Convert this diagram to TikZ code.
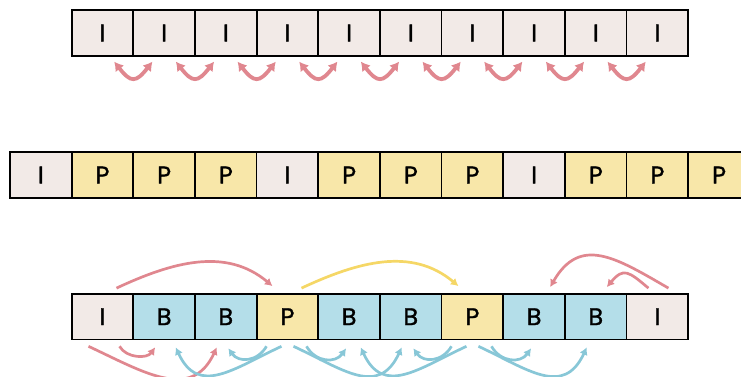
\documentclass[tikz,border=0pt]{standalone}
\usepackage{fontspec}
\setmainfont{Poppins}[FakeBold=1.2]
\usetikzlibrary{arrows.meta}
\definecolor{ifill}{HTML}{F2EAE7}
\definecolor{pfill}{HTML}{F8E7A9}
\definecolor{bfill}{HTML}{B4DEE9}
\definecolor{redc}{HTML}{E0878F}
\definecolor{bluec}{HTML}{88C7D7}
\definecolor{yellowc}{HTML}{F5D766}
\tikzset{
  cell/.style={draw=black, line width=1.7pt, minimum width=61.66pt, minimum height=45.5pt,
    inner sep=0pt, font=\fontsize{24}{24}\selectfont},
  icell/.style={cell, fill=ifill},
  pcell/.style={cell, fill=pfill},
  bcell/.style={cell, fill=bfill},
  link/.style={line width=2.7pt, -{Latex[length=7.5pt,width=8.5pt]}},
  pairarrow/.style={line width=3.8pt, redc,
    {Latex[length=9pt,width=11pt]}-{Latex[length=9pt,width=11pt]}},
}
\begin{document}
\begin{tikzpicture}[x=1pt,y=1pt]
\useasboundingbox (0,0) rectangle (741,-376);
\clip (0,0) rectangle (741,-376);

% all-intra sequence
\foreach \k in {0,...,9}
  \node[icell] (t\k) at ({102.5+61.66*\k},-33) {I};
\foreach \k [evaluate=\k as \j using int(\k+1)] in {0,...,8}
  \draw[pairarrow] ([xshift=-20pt,yshift=-5pt]t\k.south east)
    .. controls +(-52:27) and +(-128:27) .. ([xshift=20pt,yshift=-5pt]t\j.south west);

% I/P sequence
\foreach \k/\t/\s in {0/I/icell,1/P/pcell,2/P/pcell,3/P/pcell,4/I/icell,5/P/pcell,
                      6/P/pcell,7/P/pcell,8/I/icell,9/P/pcell,10/P/pcell,11/P/pcell}
  \node[\s] (m\k) at ({40.83+61.66*\k},-175) {\t};

% I/B/P sequence
\foreach \k/\t/\s in {0/I/icell,1/B/bcell,2/B/bcell,3/P/pcell,4/B/bcell,
                      5/B/bcell,6/P/pcell,7/B/bcell,8/B/bcell,9/I/icell}
  \node[\s] (b\k) at ({102.5+61.66*\k},-316.7) {\t};

% forward references above the row
\draw[link, redc] ([xshift=14pt,yshift=5pt]b0.north) to[out=25,in=140]
  ([xshift=-15pt,yshift=7pt]b3.north);
\draw[link, yellowc] ([xshift=14pt,yshift=5pt]b3.north) to[out=25,in=140]
  ([xshift=-14pt,yshift=7pt]b6.north);
\draw[link, redc] ([xshift=11pt,yshift=5pt]b9.north) to[out=150,in=60,looseness=1.3]
  ([xshift=16pt,yshift=6pt]b7.north);
\draw[link, redc] ([xshift=-9pt,yshift=5pt]b9.north) to[out=140,in=50,looseness=1.6]
  ([xshift=11pt,yshift=6pt]b8.north);

% references below the row
\draw[link, redc] ([xshift=17pt,yshift=-6pt]b0.south) to[out=-60,in=-125]
  ([xshift=-9pt,yshift=-7pt]b1.south);
\draw[link, redc] ([xshift=-14pt,yshift=-6pt]b0.south) to[out=-25,in=-115,looseness=1.2]
  ([xshift=-9pt,yshift=-7pt]b2.south);

\foreach \p/\l/\ll/\r/\rr in {3/2/1/4/5, 6/5/4/7/8}{
  \draw[link, bluec] ([xshift=-21pt,yshift=-6pt]b\p.south) to[out=-120,in=-55,looseness=1.2]
    ([xshift=2.5pt,yshift=-8pt]b\l.south);
  \draw[link, bluec] ([xshift=-6pt,yshift=-6pt]b\p.south) to[out=-155,in=-65,looseness=1.3]
    ([xshift=11.5pt,yshift=-7pt]b\ll.south);
  \draw[link, bluec] ([xshift=19pt,yshift=-6pt]b\p.south) to[out=-60,in=-125,looseness=1.2]
    ([xshift=-3pt,yshift=-8pt]b\r.south);
  \draw[link, bluec] ([xshift=6pt,yshift=-6pt]b\p.south) to[out=-25,in=-115,looseness=1.3]
    ([xshift=-9pt,yshift=-7pt]b\rr.south);
}
\end{tikzpicture}
\end{document}
